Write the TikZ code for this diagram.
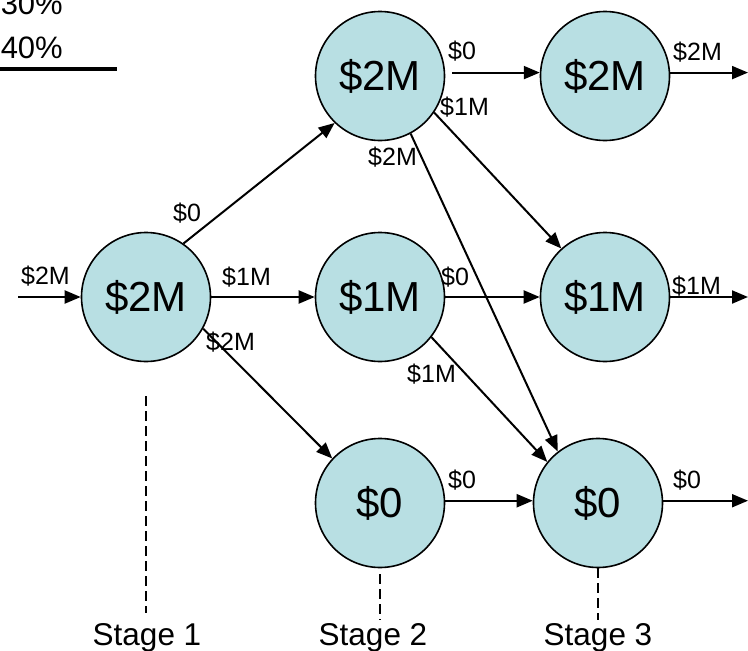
\documentclass[tikz,border=0pt]{standalone}
\usepackage{fontspec}
\setmainfont{Liberation Sans}
\usetikzlibrary{arrows.meta}
\definecolor{nodefill}{HTML}{B8DFE3}
\tikzset{
  state/.style={circle,draw=black,line width=1.6pt,fill=nodefill,minimum size=129pt,inner sep=0pt,font=\fontsize{42}{42}\selectfont},
  arr/.style={line width=2pt,-{Triangle[length=16pt,width=13pt]}},
  lbl/.style={anchor=base west,inner sep=0pt,font=\fontsize{25}{25}\selectfont},
  stagelbl/.style={anchor=base,inner sep=0pt,font=\fontsize{31.5}{31.5}\selectfont},
  stagedash/.style={line width=1.6pt,dash pattern=on 10pt off 5pt},
  pct/.style={anchor=base east,inner sep=0pt,font=\fontsize{31}{31}\selectfont}
}
\begin{document}
\begin{tikzpicture}[x=1pt,y=-1pt]
\useasboundingbox (0,0) rectangle (748,651);
% top-left percentages
\node[pct] (p30) at (63,14) {30\%};
\node[pct] (p40) at (63,58) {40\%};
\draw[line width=4pt] (0,69) -- (117,69);
% states
\node[state] (A) at (146,297) {\$2M};
\node[state] (B) at (380,76) {\$2M};
\node[state] (C) at (380,297) {\$1M};
\node[state] (D) at (380,503) {\$0};
\node[state] (E) at (605,76) {\$2M};
\node[state] (F) at (605,297) {\$1M};
\node[state] (G) at (598,503) {\$0};
% free ends
\coordinate (in) at (18,297);
\coordinate (eo) at (748,72);
\coordinate (fo) at (748,297);
\coordinate (go) at (748,500);
% connectors
\draw[arr] (in) -- (A.west);
\draw[arr] (A.55) -- (B.226);
\draw[arr] (A.east) -- (C.west);
\draw[arr] (A.-29) -- (D.137);
\draw[arr,shorten <=7pt] (B.3) -- (E.177);
\draw[arr] (B.-34) -- (F.132);
\draw[arr] (B.-62) -- (G.128);
\draw[arr] (C.east) -- (F.west);
\draw[arr] (C.-38) -- (G.141);
\draw[arr] (D.2) -- (G.178);
\draw[arr] (E.3) -- (E.3 -| eo);
\draw[arr] (F.east) -- (fo);
\draw[arr] (G.2) -- (G.2 -| go);
% connector labels
\node[lbl] (l1) at (21,284) {\$2M};
\node[lbl] (l2) at (173,221) {\$0};
\node[lbl] (l3) at (222,285) {\$1M};
\node[lbl] (l4) at (206,350) {\$2M};
\node[lbl] (l5) at (448,59) {\$0};
\node[lbl] (l6) at (440,115) {\$1M};
\node[lbl] (l7) at (368,165) {\$2M};
\node[lbl] (l8) at (441,285) {\$0};
\node[lbl] (l9) at (407,382) {\$1M};
\node[lbl] (l10) at (448,488) {\$0};
\node[lbl] (l11) at (673,60) {\$2M};
\node[lbl] (l12) at (672,294) {\$1M};
\node[lbl] (l13) at (673,488) {\$0};
% stages
\coordinate (s1top) at (146,396);
\coordinate (s1bot) at (146,613);
\coordinate (s2top) at (380,574);
\coordinate (s2bot) at (380,620);
\coordinate (s3bot) at (598,620);
\draw[stagedash] (s1top) -- (s1bot);
\draw[stagedash] (s2top) -- (s2bot);
\draw[stagedash] (G.south) -- (s3bot);
\node[stagelbl] (st1) at (147,645) {Stage 1};
\node[stagelbl] (st2) at (373,645) {Stage 2};
\node[stagelbl] (st3) at (598,645) {Stage 3};
\end{tikzpicture}
\end{document}
